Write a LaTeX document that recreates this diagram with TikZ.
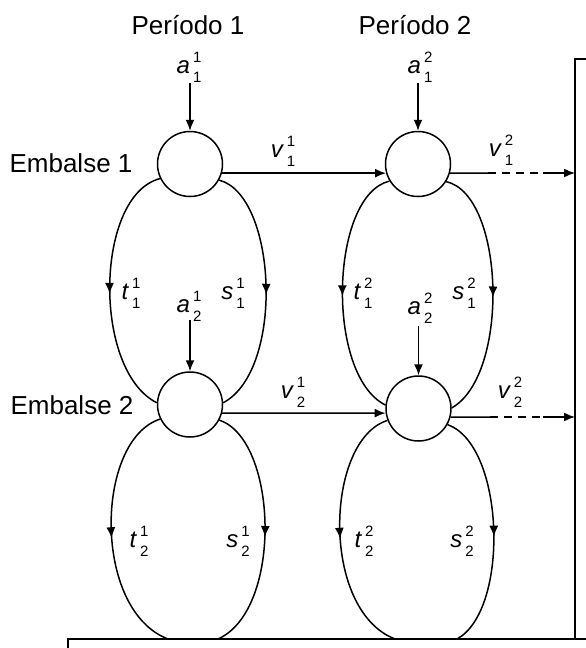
\documentclass[tikz,border=0pt]{standalone}
\usepackage{fontspec}
\setmainfont{Liberation Sans}
\usetikzlibrary{arrows.meta,decorations.markings}
\tikzset{
 res/.style={circle,draw,line width=1.5pt,minimum size=65pt,inner sep=0pt},
 lbl/.style={font=\fontsize{26}{30}\selectfont,inner sep=0pt},
 var/.style={font=\fontsize{24}{28}\selectfont,inner sep=0pt},
 flow/.style={line width=1.5pt,-{Latex[length=11pt,width=9pt]}},
 arcflow/.style={line width=1.5pt,postaction={decorate},decoration={markings,mark=at position #1 with {\arrow{Latex[length=11pt,width=9pt]}}}},
 edgeline/.style={line width=1.5pt},
 dashline/.style={line width=1.5pt,dash pattern=on 8pt off 6pt},
}
\newcommand{\lb}[3]{\textit{#1}\hspace{3pt}\makebox[0pt][l]{\raisebox{11pt}{\fontsize{15}{15}\selectfont #2}}\raisebox{-9pt}{\fontsize{15}{15}\selectfont #3}}
\begin{document}
\begin{tikzpicture}[x=1pt,y=-1pt]
\useasboundingbox (0,0) rectangle (586,648);
% reservoirs
\node[res] (r11) at (190,164) {};
\node[res] (r12) at (418,164) {};
\node[res] (r21) at (190,404.5) {};
\node[res] (r22) at (418.5,408.5) {};
% headers
\node[lbl] (p1) at (188,25) {Período 1};
\node[lbl] (p2) at (415,25) {Período 2};
\node[lbl] (e1) at (71,163) {Embalse 1};
\node[lbl] (e2) at (72,405) {Embalse 2};
% inflow labels and arrows
\node[var] (a11) at (189,67) {\lb{a}{1}{1}};
\node[var] (a12) at (420,67) {\lb{a}{2}{1}};
\node[var] (a21) at (189,306) {\lb{a}{1}{2}};
\node[var] (a22) at (420,308) {\lb{a}{2}{2}};
\coordinate (ia11) at (190,83);
\coordinate (ia12) at (418,83);
\coordinate (ia21) at (190,320);
\coordinate (ia22) at (418.5,326);
\draw[flow] (ia11) -- (r11.north);
\draw[flow] (ia12) -- (r12.north);
\draw[flow] (ia21) -- (r21.north);
\draw[flow] (ia22) -- (r22.north);
% spill-over between periods
\draw[flow] (r11.344) -- (r12.196);
\draw[flow] (r21.345) -- (r22.188);
\node[var] (v11) at (283,151) {\lb{v}{1}{1}};
\node[var] (v21) at (293,392) {\lb{v}{1}{2}};
\node[var] (v12) at (501,150) {\lb{v}{2}{1}};
\node[var] (v22) at (510,392) {\lb{v}{2}{2}};
% outgoing to next period
\coordinate (d1a) at (488,173);
\coordinate (d1b) at (543,173);
\coordinate (d1c) at (575,173);
\coordinate (d2a) at (490,417);
\coordinate (d2b) at (543,417);
\coordinate (d2c) at (575,417);
\draw[edgeline] (r12.344) -- (d1a);
\draw[dashline] (d1a) -- (d1b);
\draw[flow] (d1b) -- (d1c);
\draw[edgeline] (r22.345) -- (d2a);
\draw[dashline] (d2a) -- (d2b);
\draw[flow] (d2b) -- (d2c);
% boxes
\coordinate (bx1) at (586,59);
\coordinate (bx2) at (575,59);
\coordinate (bx3) at (575,639);
\coordinate (by1) at (68,648);
\coordinate (by2) at (68,639);
\coordinate (by3) at (586,639);
\draw[line width=1.2pt] (bx1) -- (bx2) -- (bx3);
\draw[line width=1.2pt] (by1) -- (by2) -- (by3);
% period 1 loops
\draw[arcflow=0.52] (r11.206) .. controls (95,195) and (92,370) .. (r21.177);
\draw[arcflow=0.52] (r11.331) .. controls (277,195) and (285,370) .. (r21.3);
\coordinate (f1l) at (168,639);
\coordinate (f1r) at (218,639);
\draw[arcflow=0.53] (r21.206) .. controls (95,440) and (92,610) .. (f1l);
\draw[arcflow=0.53] (r21.332) .. controls (278,440) and (283,610) .. (f1r);
% period 2 loops
\draw[arcflow=0.52] (r12.211) .. controls (330,195) and (325,375) .. (r22.174);
\draw[arcflow=0.52] (r12.328) .. controls (505,195) and (510,375) .. (r22.1);
\coordinate (f2l) at (395,639);
\coordinate (f2r) at (457,639);
\draw[arcflow=0.53] (r22.201) .. controls (325,440) and (320,610) .. (f2l);
\draw[arcflow=0.53] (r22.331) .. controls (505,445) and (510,610) .. (f2r);
% loop labels
\node[var] (t11) at (131,293) {\lb{t}{1}{1}};
\node[var] (s11) at (233,293) {\lb{s}{1}{1}};
\node[var] (t12) at (363,293) {\lb{t}{2}{1}};
\node[var] (s12) at (464,293) {\lb{s}{2}{1}};
\node[var] (t21) at (139,541) {\lb{t}{1}{2}};
\node[var] (s21) at (238,541) {\lb{s}{1}{2}};
\node[var] (t22) at (364,541) {\lb{t}{2}{2}};
\node[var] (s22) at (462,541) {\lb{s}{2}{2}};
\end{tikzpicture}
\end{document}
